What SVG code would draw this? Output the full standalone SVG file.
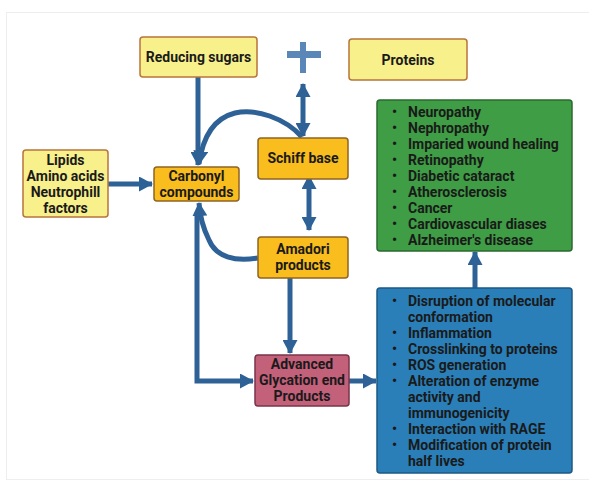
<svg xmlns="http://www.w3.org/2000/svg" width="589" height="484" viewBox="0 0 589 484">
<defs>
<style>
.t{font-family:Roboto,"Liberation Sans",sans-serif;font-weight:bold;font-size:14px;fill:#1a1a1a;text-anchor:middle}
.l{font-family:Roboto,"Liberation Sans",sans-serif;font-weight:bold;font-size:14px;fill:#1a1a1a}
.yl{fill:#f8f08a;stroke:#b8743c;stroke-width:1.5}
.or{fill:#f9bd1d;stroke:#8f6424;stroke-width:1.5}
.c{fill:none;stroke:#2e6196;stroke-width:5}
</style>
<marker id="ah" viewBox="0 0 14 15" refX="13" refY="7.5" markerWidth="14" markerHeight="15" markerUnits="userSpaceOnUse" orient="auto-start-reverse">
<path d="M0,0 L14,7.5 L0,15 Z" fill="#2e6196"/>
</marker>
</defs>
<rect x="0" y="0" width="589" height="484" fill="#ffffff"/>
<rect x="6.5" y="12.5" width="600" height="467" fill="none" stroke="#eeeeee" stroke-width="1"/>

<g id="connectors">
<path class="c" d="M198,77 V165" marker-end="url(#ah)"/>
<path class="c" d="M108,184 H152" marker-end="url(#ah)"/>
<path class="c" d="M303,84 V136" marker-start="url(#ah)" marker-end="url(#ah)"/>
<path class="c" d="M302,137 C285,118 255,108 235,113 C215,118 203,135 199,164" marker-end="url(#ah)"/>
<path class="c" d="M309,176 V230" marker-start="url(#ah)" marker-end="url(#ah)"/>
<path class="c" d="M258,258 C235,262 216,257 209,240 C203,228 200,218 199,203" marker-end="url(#ah)"/>
<path class="c" d="M197,215 V381 H253" marker-end="url(#ah)"/>
<path class="c" d="M290,278 V353" marker-end="url(#ah)"/>
<path class="c" d="M349,381 H376" marker-end="url(#ah)"/>
<path class="c" d="M475,288 V252" marker-end="url(#ah)"/>
</g>

<g id="plus">
<rect x="287" y="51" width="34" height="7" fill="#5b87b8"/>
<rect x="300" y="42" width="6" height="31" fill="#5b87b8"/>
</g>

<g id="reducing-sugars">
<rect class="yl" x="140" y="37" width="117" height="40" rx="3"/>
<text class="t" x="198.5" y="62">Reducing sugars</text>
</g>

<g id="proteins">
<rect class="yl" x="349" y="39" width="118" height="41" rx="3"/>
<text class="t" x="408" y="64.5">Proteins</text>
</g>

<g id="lipids">
<rect class="yl" x="23" y="150" width="85" height="67" rx="3"/>
<text class="t" x="65.5" y="165">Lipids</text>
<text class="t" x="65.5" y="181">Amino acids</text>
<text class="t" x="65.5" y="197">Neutrophill</text>
<text class="t" x="65.5" y="212.5">factors</text>
</g>

<g id="carbonyl">
<rect class="or" x="154" y="167" width="85" height="34" rx="3"/>
<text class="t" x="196.5" y="181">Carbonyl</text>
<text class="t" x="196.5" y="197">compounds</text>
</g>

<g id="schiff">
<rect class="or" x="258" y="138" width="90" height="41" rx="3"/>
<text class="t" x="303" y="163">Schiff base</text>
</g>

<g id="amadori">
<rect class="or" x="258" y="237" width="90" height="41" rx="3"/>
<text class="t" x="303" y="254">Amadori</text>
<text class="t" x="303" y="270">products</text>
</g>

<g id="age">
<rect x="255" y="355" width="94" height="51" rx="3" fill="#c3607a" stroke="#7a3448" stroke-width="1.5"/>
<text class="t" x="302" y="369">Advanced</text>
<text class="t" x="302" y="385">Glycation end</text>
<text class="t" x="302" y="401">Products</text>
</g>

<g id="diseases">
<rect x="377" y="100" width="195" height="151" rx="3" fill="#3f9d45" stroke="#2b6a2f" stroke-width="1.5"/>
<g class="l">
<text x="392" y="117">•</text><text x="408" y="117">Neuropathy</text>
<text x="392" y="133">•</text><text x="408" y="133">Nephropathy</text>
<text x="392" y="149">•</text><text x="408" y="149">Imparied wound healing</text>
<text x="392" y="165">•</text><text x="408" y="165">Retinopathy</text>
<text x="392" y="181">•</text><text x="408" y="181">Diabetic cataract</text>
<text x="392" y="197">•</text><text x="408" y="197">Atherosclerosis</text>
<text x="392" y="213">•</text><text x="408" y="213">Cancer</text>
<text x="392" y="229">•</text><text x="408" y="229">Cardiovascular diases</text>
<text x="392" y="245">•</text><text x="408" y="245">Alzheimer's disease</text>
</g>
</g>

<g id="effects">
<rect x="377" y="288" width="195" height="185" rx="3" fill="#2a7fb8" stroke="#1d5a85" stroke-width="1.5"/>
<g class="l">
<text x="392" y="306">•</text><text x="408" y="306">Disruption of molecular</text>
<text x="408" y="322">conformation</text>
<text x="392" y="338">•</text><text x="408" y="338">Inflammation</text>
<text x="392" y="354">•</text><text x="408" y="354">Crosslinking to proteins</text>
<text x="392" y="370">•</text><text x="408" y="370">ROS generation</text>
<text x="392" y="386">•</text><text x="408" y="386">Alteration of enzyme</text>
<text x="408" y="402">activity and</text>
<text x="408" y="418">immunogenicity</text>
<text x="392" y="434">•</text><text x="408" y="434">Interaction with RAGE</text>
<text x="392" y="450">•</text><text x="408" y="450">Modification of protein</text>
<text x="408" y="466">half lives</text>
</g>
</g>
</svg>
